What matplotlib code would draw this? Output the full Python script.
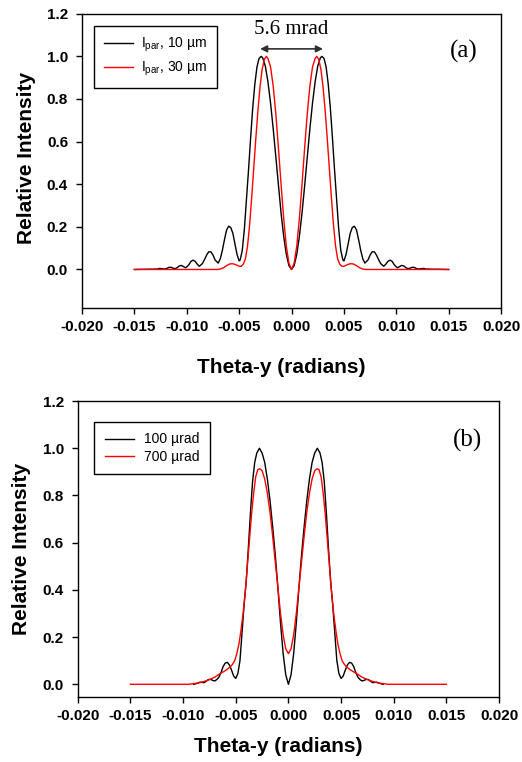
import numpy as np
import matplotlib
matplotlib.use("Agg")
import matplotlib.pyplot as plt
from matplotlib.ticker import FormatStrFormatter, MultipleLocator

plt.rcParams['font.family'] = ['Liberation Sans', 'DejaVu Sans']
plt.rcParams['mathtext.default'] = 'regular'

# (a) I_par, 10 um
theta_a_10 = [
    -0.015, -0.014, -0.0135, -0.0131, -0.0128, -0.0126, -0.0124, -0.0121, -0.0119, -0.0117,
    -0.0115, -0.0113, -0.0111, -0.0109, -0.0107, -0.0105, -0.0103, -0.0101, -0.0098, -0.0096,
    -0.0094, -0.0092, -0.009, -0.0088, -0.0085, -0.0083, -0.0081, -0.0079, -0.0077, -0.0075,
    -0.0073, -0.007, -0.0068, -0.0066, -0.0064, -0.0062, -0.006, -0.0058, -0.0056, -0.0054,
    -0.0052, -0.005, -0.0049, -0.0047, -0.0045, -0.0043, -0.0041, -0.0039, -0.0037, -0.0035,
    -0.0033, -0.0031, -0.0029, -0.00275, -0.0025, -0.00225, -0.002, -0.00175, -0.0015, -0.00125,
    -0.001, -0.00075, -0.0005, -0.00025,
    0.0, 0.00025, 0.0005, 0.00075, 0.001, 0.00125, 0.0015, 0.00175, 0.002, 0.00225,
    0.0025, 0.00275, 0.0029, 0.0031, 0.0033, 0.0035, 0.0037, 0.0039, 0.0041, 0.0043,
    0.0045, 0.0047, 0.0049, 0.005, 0.0052, 0.0054, 0.0056, 0.0058, 0.006, 0.0062,
    0.0064, 0.0066, 0.0068, 0.007, 0.0073, 0.0075, 0.0077, 0.0079, 0.0081, 0.0083,
    0.0085, 0.0088, 0.009, 0.0092, 0.0094, 0.0096, 0.0098, 0.0101, 0.0103, 0.0105,
    0.0107, 0.0109, 0.0111, 0.0113, 0.0115, 0.0117, 0.0119, 0.0121, 0.0124, 0.0126,
    0.0128, 0.0131, 0.0135, 0.014, 0.015]
int_a_10 = [
    0.0, 0.001, 0.001, 0.002, 0.002, 0.005, 0.004, 0.002, 0.005, 0.010,
    0.010, 0.006, 0.004, 0.009, 0.017, 0.019, 0.013, 0.008, 0.022, 0.038,
    0.044, 0.038, 0.025, 0.015, 0.028, 0.047, 0.068, 0.083, 0.083, 0.068,
    0.045, 0.03, 0.05, 0.09, 0.14, 0.185, 0.203, 0.197, 0.17, 0.12,
    0.07, 0.04, 0.045, 0.09, 0.19, 0.33, 0.47, 0.62, 0.76, 0.87,
    0.95, 0.99, 1.0, 0.993, 0.954, 0.88, 0.78, 0.66, 0.528, 0.392,
    0.265, 0.156, 0.071, 0.018,
    0.0, 0.018, 0.071, 0.156, 0.265, 0.392, 0.528, 0.66, 0.78, 0.88,
    0.954, 0.993, 1.0, 0.99, 0.95, 0.87, 0.76, 0.62, 0.47, 0.33,
    0.19, 0.09, 0.045, 0.04, 0.07, 0.12, 0.17, 0.197, 0.203, 0.185,
    0.14, 0.09, 0.05, 0.03, 0.045, 0.068, 0.083, 0.083, 0.068, 0.047,
    0.028, 0.015, 0.025, 0.038, 0.044, 0.038, 0.022, 0.008, 0.013, 0.019,
    0.017, 0.009, 0.004, 0.006, 0.010, 0.010, 0.005, 0.002, 0.004, 0.005,
    0.002, 0.002, 0.001, 0.001, 0.0]

# (a) I_par, 30 um
theta_a_30 = [
    -0.015, -0.0071, -0.0068, -0.0065, -0.0062, -0.0059, -0.0056, -0.0053, -0.005, -0.0048,
    -0.0046, -0.0044, -0.0042, -0.004, -0.0038, -0.0036, -0.0034, -0.0032, -0.003, -0.0028,
    -0.0026, -0.0024, -0.00225, -0.002, -0.00175, -0.0015, -0.00125, -0.001, -0.00075, -0.0005,
    -0.00025, 0.0, 0.00025, 0.0005, 0.00075, 0.001, 0.00125, 0.0015, 0.00175, 0.002,
    0.00225, 0.0024, 0.0026, 0.0028, 0.003, 0.0032, 0.0034, 0.0036, 0.0038, 0.004,
    0.0042, 0.0044, 0.0046, 0.0048, 0.005, 0.0053, 0.0056, 0.0059, 0.0062, 0.0065,
    0.0068, 0.0071, 0.015]
int_a_30 = [
    0.0, 0.0, 0.002, 0.008, 0.018, 0.026, 0.027, 0.022, 0.015, 0.015,
    0.025, 0.05, 0.11, 0.21, 0.34, 0.48, 0.62, 0.75, 0.86, 0.94,
    0.985, 1.0, 0.99, 0.95, 0.86, 0.73, 0.57, 0.40, 0.24, 0.11,
    0.03, 0.0, 0.03, 0.11, 0.24, 0.40, 0.57, 0.73, 0.86, 0.95,
    0.99, 1.0, 0.985, 0.94, 0.86, 0.75, 0.62, 0.48, 0.34, 0.21,
    0.11, 0.05, 0.025, 0.015, 0.015, 0.022, 0.027, 0.026, 0.018, 0.008,
    0.002, 0.0, 0.0]

# (b) 100 urad
theta_b_100 = [
    -0.009, -0.0088, -0.0086, -0.0084, -0.0082, -0.008, -0.0078, -0.0076, -0.0074, -0.0072,
    -0.007, -0.0068, -0.0066, -0.0064, -0.0062, -0.006, -0.0058, -0.0056, -0.0054, -0.0052,
    -0.005, -0.0048, -0.0046, -0.0044, -0.0042, -0.004, -0.0038, -0.0036, -0.0034, -0.0032,
    -0.003, -0.00275, -0.0025, -0.00225, -0.002, -0.00175, -0.0015, -0.00125, -0.001, -0.00075,
    -0.0005, -0.00025, 0.0, 0.00025, 0.0005, 0.00075, 0.001, 0.00125, 0.0015, 0.00175,
    0.002, 0.00225, 0.0025, 0.00275, 0.003, 0.0032, 0.0034, 0.0036, 0.0038, 0.004,
    0.0042, 0.0044, 0.0046, 0.0048, 0.005, 0.0052, 0.0054, 0.0056, 0.0058, 0.006,
    0.0062, 0.0064, 0.0066, 0.0068, 0.007, 0.0072, 0.0074, 0.0076, 0.0078, 0.008,
    0.0082, 0.0084, 0.0086, 0.0088, 0.009]
int_b_100 = [
    0.0, 0.002, 0.005, 0.009, 0.008, 0.007, 0.013, 0.02, 0.021, 0.017,
    0.014, 0.02, 0.03, 0.05, 0.075, 0.09, 0.093, 0.082, 0.06, 0.035,
    0.025, 0.045, 0.10, 0.22, 0.34, 0.44, 0.58, 0.73, 0.86, 0.94,
    0.98, 1.0, 0.98, 0.94, 0.87, 0.78, 0.67, 0.55, 0.41, 0.26,
    0.13, 0.04, 0.0, 0.04, 0.13, 0.26, 0.41, 0.55, 0.67, 0.78,
    0.87, 0.94, 0.98, 1.0, 0.98, 0.94, 0.86, 0.73, 0.58, 0.44,
    0.34, 0.22, 0.10, 0.045, 0.025, 0.035, 0.06, 0.082, 0.093, 0.09,
    0.075, 0.05, 0.03, 0.02, 0.014, 0.017, 0.021, 0.02, 0.013, 0.007,
    0.008, 0.009, 0.005, 0.002, 0.0]

# (b) 700 urad
theta_b_700 = [
    -0.015, -0.0095, -0.009, -0.0085, -0.008, -0.0075, -0.007, -0.0065, -0.0061, -0.0058,
    -0.0055, -0.0053, -0.0051, -0.0049, -0.0047, -0.0045, -0.0043, -0.0041, -0.0039, -0.0037,
    -0.0035, -0.0033, -0.0031, -0.0029, -0.0027, -0.0025, -0.00225, -0.002, -0.00175, -0.0015,
    -0.00125, -0.001, -0.00075, -0.0005, -0.00025, 0.0, 0.00025, 0.0005, 0.00075, 0.001,
    0.00125, 0.0015, 0.00175, 0.002, 0.00225, 0.0025, 0.0027, 0.0029, 0.0031, 0.0033,
    0.0035, 0.0037, 0.0039, 0.0041, 0.0043, 0.0045, 0.0047, 0.0049, 0.0051, 0.0053,
    0.0055, 0.0058, 0.0061, 0.0065, 0.007, 0.0075, 0.008, 0.0085, 0.009, 0.0095,
    0.015]
int_b_700 = [
    0.0, 0.0, 0.003, 0.006, 0.012, 0.02, 0.030, 0.045, 0.055, 0.064,
    0.075, 0.085, 0.10, 0.13, 0.17, 0.23, 0.30, 0.39, 0.50, 0.61,
    0.72, 0.81, 0.88, 0.91, 0.913, 0.905, 0.87, 0.81, 0.73, 0.63,
    0.52, 0.41, 0.30, 0.21, 0.15, 0.13, 0.15, 0.21, 0.30, 0.41,
    0.52, 0.63, 0.73, 0.81, 0.87, 0.905, 0.913, 0.91, 0.88, 0.81,
    0.72, 0.61, 0.50, 0.39, 0.30, 0.23, 0.17, 0.13, 0.10, 0.085,
    0.075, 0.064, 0.055, 0.045, 0.030, 0.02, 0.012, 0.006, 0.003, 0.0,
    0.0]

labels_a = ['I$_{par}$, 10 µm', 'I$_{par}$, 30 µm']
labels_b = ['100 µrad', '700 µrad']
peak_half = 0.003  # arrow ends, 5.6 mrad mark


def style_axes(ax, ymin):
    ax.set_xlim(-0.02, 0.02)
    ax.set_ylim(ymin, 1.2)
    ax.xaxis.set_major_locator(MultipleLocator(0.005))
    ax.yaxis.set_major_locator(MultipleLocator(0.2))
    ax.xaxis.set_major_formatter(FormatStrFormatter('%.3f'))
    ax.yaxis.set_major_formatter(FormatStrFormatter('%.1f'))
    ax.tick_params(direction='out', length=4, width=1, top=False, right=False,
                   labelsize=11)
    ax.tick_params(axis='x', pad=5)
    ax.tick_params(axis='y', pad=6)
    for lab in ax.get_xticklabels() + ax.get_yticklabels():
        lab.set_fontweight('bold')
    for s in ax.spines.values():
        s.set_linewidth(1)
    ax.set_xlabel('Theta-y (radians)', fontsize=15, fontweight='bold')
    ax.set_ylabel('Relative Intensity', fontsize=15, fontweight='bold')


fig = plt.figure(figsize=(5.22, 7.62), dpi=100)

# panel (a)
ax1 = fig.add_axes([0.157, 0.596, 0.803, 0.386])
ax1.plot(theta_a_10, int_a_10, color='black', lw=1, label=labels_a[0])
ax1.plot(theta_a_30, int_a_30, color='#ff0000', lw=1, label=labels_a[1])
style_axes(ax1, -0.18)
ax1.xaxis.set_label_coords(0.475, -0.17)
ax1.yaxis.set_label_coords(-0.11, 0.508)
leg = ax1.legend(loc='upper left', bbox_to_anchor=(0.029, 0.959), borderaxespad=0,
                 fontsize=10, handlelength=2.1, handletextpad=0.6, labelspacing=0.45,
                 borderpad=0.7, fancybox=False, edgecolor='black', framealpha=1)
leg.get_frame().set_linewidth(1)
ax1.annotate('', xy=(-peak_half, 1.035), xytext=(peak_half, 1.035),
             arrowprops=dict(arrowstyle='<|-|>', color='#303030', lw=1.2,
                             mutation_scale=10, shrinkA=0, shrinkB=0))
ax1.text(0, 1.125, '5.6 mrad', ha='center', va='center', fontsize=15,
         family='Liberation Serif')
ax1.text(0.912, 0.871, '(a)', transform=ax1.transAxes, ha='center', va='center',
         fontsize=18, family='Liberation Serif')

# panel (b)
ax2 = fig.add_axes([0.149, 0.0857, 0.807, 0.388])
ax2.plot(theta_b_100, int_b_100, color='black', lw=1, label=labels_b[0])
ax2.plot(theta_b_700, int_b_700, color='#ff0000', lw=1, label=labels_b[1])
style_axes(ax2, -0.0525)
ax2.xaxis.set_label_coords(0.475, -0.135)
ax2.yaxis.set_label_coords(-0.11, 0.50)
leg = ax2.legend(loc='upper left', bbox_to_anchor=(0.039, 0.929), borderaxespad=0,
                 fontsize=10, handlelength=2.1, handletextpad=0.75, labelspacing=0.25,
                 borderpad=0.75, fancybox=False, edgecolor='black', framealpha=1)
leg.get_frame().set_linewidth(1)
ax2.text(0.924, 0.868, '(b)', transform=ax2.transAxes, ha='center', va='center',
         fontsize=18, family='Liberation Serif')

fig.savefig('out.png', dpi=100)
